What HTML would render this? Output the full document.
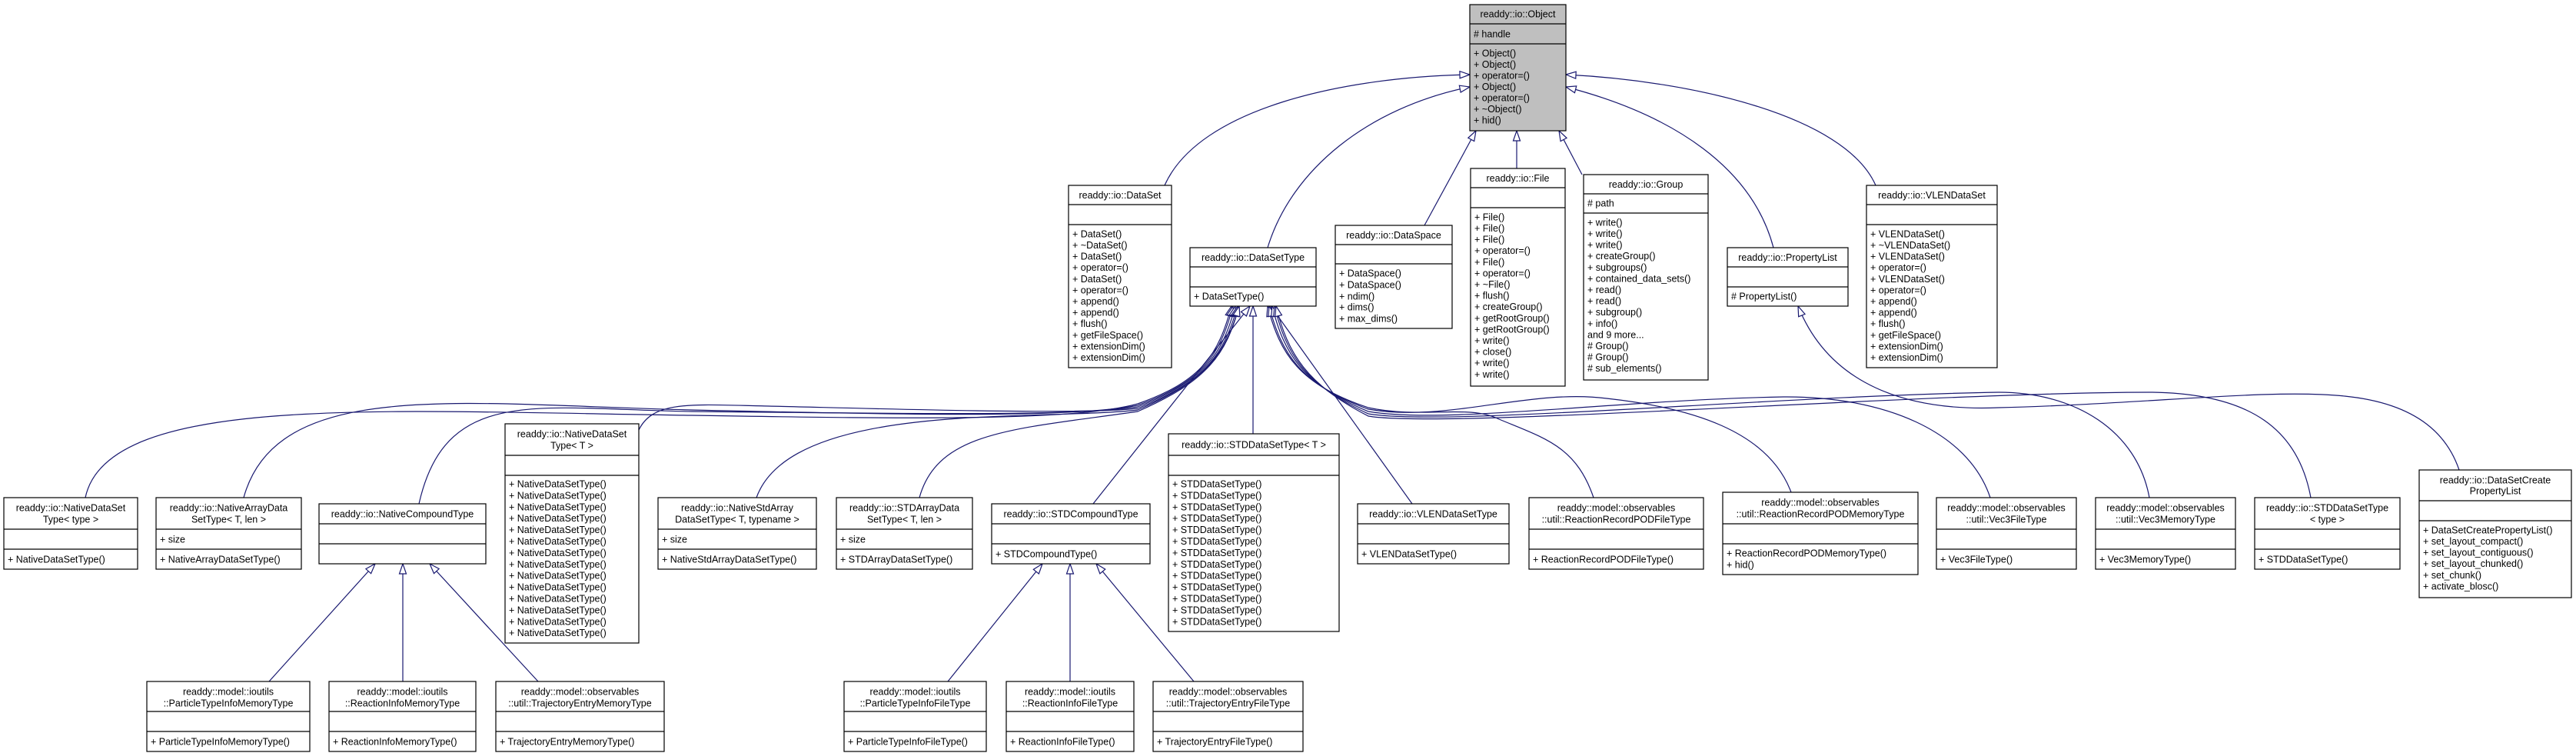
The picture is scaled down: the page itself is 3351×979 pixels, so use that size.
<!DOCTYPE html>
<html><head><meta charset="utf-8"><style>
html,body{margin:0;padding:0;background:#fff;width:3351px;height:979px;overflow:hidden}
svg{display:block}
text{font-family:"Liberation Sans",Arial,sans-serif;font-size:12.5px;fill:#000}
.c{text-anchor:middle}
.b{fill:#fff;stroke:#000;stroke-width:1.2}
.g{fill:#bfbfbf;stroke:#000;stroke-width:1.2}
.l{stroke:#000;stroke-width:1.2}
.e{fill:none;stroke:#191970;stroke-width:1.2}
</style></head><body>
<svg width="3351" height="979" viewBox="0 0 3351 979" xmlns="http://www.w3.org/2000/svg">
<defs>
<marker id="a" markerUnits="userSpaceOnUse" markerWidth="20" markerHeight="20" refX="1" refY="6" orient="auto" viewBox="0 0 20 12">
<path d="M1,6 L14,1.5 L14,10.5 Z" fill="#fff" stroke="#191970" stroke-width="1.2"/>
</marker>
</defs>

<g class="e" marker-start="url(#a)">
<path d="M1912,97 C1750,100 1560,140 1515,241"/>
<path d="M1912,113 C1780,140 1680,220 1649,322"/>
<path d="M1920,170 L1853,293"/>
<path d="M1973,170 L1973,219"/>
<path d="M2028,170 L2058,227"/>
<path d="M2037,113 C2180,150 2280,220 2307,322"/>
<path d="M2037,97 C2200,105 2400,150 2440,241"/>

<path d="M1602,398 C1585,460 1565,495 1480,525 C1400,547 1200,545 900,540 C500,535 140,510 111,647"/>
<path d="M1604,398 C1587,460 1567,495 1480,527 C1400,543 1200,540 900,533 C600,526 360,490 317,647"/>
<path d="M1607,398 C1590,460 1568,495 1480,529 C1400,541 1200,538 900,535 C700,532 580,500 545,655"/>
<path d="M1610,398 C1592,460 1570,495 1480,531 C1400,540 1100,530 1000,528 C900,526 850,520 831,559"/>
<path d="M1612,398 C1594,460 1570,495 1480,533 C1350,548 1030,520 984,647"/>
<path d="M1612,398 C1595,460 1572,495 1480,535 C1320,558 1220,560 1196,647"/>
<path d="M1626,398 L1422,655"/>
<path d="M1630,398 L1630,564"/>
<path d="M1653,398 L1837,655"/>
<path d="M1649,398 C1665,460 1690,500 1780,530 C1850,545 1910,525 1950,545 C2010,570 2050,580 2073,647"/>
<path d="M1651,398 C1667,460 1692,500 1780,532 C1880,550 1990,505 2090,518 C2200,530 2300,560 2330,640"/>
<path d="M1655,398 C1670,460 1695,500 1780,535 C1880,552 2100,520 2320,516 C2450,515 2560,560 2589,647"/>
<path d="M1658,398 C1673,460 1697,500 1780,538 C1880,555 2300,515 2600,510 C2700,510 2780,560 2796,647"/>
<path d="M1660,398 C1675,460 1700,500 1780,541 C1880,558 2500,510 2800,510 C2930,512 2990,560 3006,647"/>
<path d="M2339,398 C2380,500 2480,535 2600,530 C2800,525 2950,505 3050,515 C3150,525 3185,570 3199,611"/>

<path d="M488,733 L350,886"/>
<path d="M524,733 L524,886"/>
<path d="M559,733 L700,886"/>
<path d="M1356,733 L1233,886"/>
<path d="M1392,733 L1392,886"/>
<path d="M1426,733 L1553,886"/>
</g>

<rect class="g" x="1912" y="6" width="125" height="164"/>
<line class="l" x1="1912" y1="31" x2="2037" y2="31"/><line class="l" x1="1912" y1="57" x2="2037" y2="57"/>
<text class="c" x="1974.5" y="22.5">readdy::io::Object</text>
<text x="1917" y="48.5"># handle</text>
<text x="1917" y="73.5">+ Object()</text><text x="1917" y="88">+ Object()</text><text x="1917" y="102.5">+ operator=()</text><text x="1917" y="117">+ Object()</text><text x="1917" y="131.5">+ operator=()</text><text x="1917" y="146">+ ~Object()</text><text x="1917" y="160.5">+ hid()</text>

<rect class="b" x="1390" y="241" width="134" height="237"/>
<line class="l" x1="1390" y1="266" x2="1524" y2="266"/><line class="l" x1="1390" y1="292" x2="1524" y2="292"/>
<text class="c" x="1457" y="258">readdy::io::DataSet</text>
<text x="1395" y="308.5">+ DataSet()</text><text x="1395" y="323">+ ~DataSet()</text><text x="1395" y="337.5">+ DataSet()</text><text x="1395" y="352">+ operator=()</text><text x="1395" y="367">+ DataSet()</text><text x="1395" y="381.5">+ operator=()</text><text x="1395" y="396">+ append()</text><text x="1395" y="410.5">+ append()</text><text x="1395" y="425">+ flush()</text><text x="1395" y="440">+ getFileSpace()</text><text x="1395" y="454.5">+ extensionDim()</text><text x="1395" y="469">+ extensionDim()</text>

<rect class="b" x="1548" y="322" width="164" height="76"/>
<line class="l" x1="1548" y1="347" x2="1712" y2="347"/><line class="l" x1="1548" y1="373" x2="1712" y2="373"/>
<text class="c" x="1630" y="339">readdy::io::DataSetType</text>
<text x="1553" y="389.5">+ DataSetType()</text>

<rect class="b" x="1737" y="293" width="152" height="134"/>
<line class="l" x1="1737" y1="318" x2="1889" y2="318"/><line class="l" x1="1737" y1="343" x2="1889" y2="343"/>
<text class="c" x="1813" y="310">readdy::io::DataSpace</text>
<text x="1742" y="359.5">+ DataSpace()</text><text x="1742" y="374.5">+ DataSpace()</text><text x="1742" y="389.5">+ ndim()</text><text x="1742" y="403.5">+ dims()</text><text x="1742" y="418.5">+ max_dims()</text>

<rect class="b" x="1913" y="219" width="123" height="283"/>
<line class="l" x1="1913" y1="244" x2="2036" y2="244"/><line class="l" x1="1913" y1="270" x2="2036" y2="270"/>
<text class="c" x="1974.5" y="236">readdy::io::File</text>
<text x="1918" y="286.5">+ File()</text><text x="1918" y="301">+ File()</text><text x="1918" y="315.5">+ File()</text><text x="1918" y="330">+ operator=()</text><text x="1918" y="345">+ File()</text><text x="1918" y="359.5">+ operator=()</text><text x="1918" y="374">+ ~File()</text><text x="1918" y="388.5">+ flush()</text><text x="1918" y="403">+ createGroup()</text><text x="1918" y="418">+ getRootGroup()</text><text x="1918" y="432.5">+ getRootGroup()</text><text x="1918" y="447">+ write()</text><text x="1918" y="461.5">+ close()</text><text x="1918" y="476">+ write()</text><text x="1918" y="491">+ write()</text>

<rect class="b" x="2060" y="227" width="162" height="267"/>
<line class="l" x1="2060" y1="252" x2="2222" y2="252"/><line class="l" x1="2060" y1="277" x2="2222" y2="277"/>
<text class="c" x="2141" y="244">readdy::io::Group</text>
<text x="2065" y="268.5"># path</text>
<text x="2065" y="293.5">+ write()</text><text x="2065" y="308">+ write()</text><text x="2065" y="322.5">+ write()</text><text x="2065" y="337">+ createGroup()</text><text x="2065" y="352">+ subgroups()</text><text x="2065" y="366.5">+ contained_data_sets()</text><text x="2065" y="381">+ read()</text><text x="2065" y="395.5">+ read()</text><text x="2065" y="410">+ subgroup()</text><text x="2065" y="425">+ info()</text><text x="2065" y="439.5">and 9 more...</text><text x="2065" y="454">&#35; Group()</text><text x="2065" y="468.5">&#35; Group()</text><text x="2065" y="483">&#35; sub_elements()</text>

<rect class="b" x="2247" y="322" width="157" height="76"/>
<line class="l" x1="2247" y1="347" x2="2404" y2="347"/><line class="l" x1="2247" y1="373" x2="2404" y2="373"/>
<text class="c" x="2325.5" y="339">readdy::io::PropertyList</text>
<text x="2252" y="389.5"># PropertyList()</text>

<rect class="b" x="2428" y="241" width="170" height="237"/>
<line class="l" x1="2428" y1="266" x2="2598" y2="266"/><line class="l" x1="2428" y1="292" x2="2598" y2="292"/>
<text class="c" x="2513" y="258">readdy::io::VLENDataSet</text>
<text x="2433" y="308.5">+ VLENDataSet()</text><text x="2433" y="323">+ ~VLENDataSet()</text><text x="2433" y="337.5">+ VLENDataSet()</text><text x="2433" y="352">+ operator=()</text><text x="2433" y="367">+ VLENDataSet()</text><text x="2433" y="381.5">+ operator=()</text><text x="2433" y="396">+ append()</text><text x="2433" y="410.5">+ append()</text><text x="2433" y="425">+ flush()</text><text x="2433" y="440">+ getFileSpace()</text><text x="2433" y="454.5">+ extensionDim()</text><text x="2433" y="469">+ extensionDim()</text>

<rect class="b" x="5" y="647" width="174" height="93"/>
<line class="l" x1="5" y1="688" x2="179" y2="688"/><line class="l" x1="5" y1="714" x2="179" y2="714"/>
<text class="c" x="92" y="664.5">readdy::io::NativeDataSet</text><text class="c" x="92" y="679.5">Type&lt; type &gt;</text>
<text x="10" y="731.5">+ NativeDataSetType()</text>

<rect class="b" x="203" y="647" width="189" height="93"/>
<line class="l" x1="203" y1="688" x2="392" y2="688"/><line class="l" x1="203" y1="714" x2="392" y2="714"/>
<text class="c" x="297.5" y="664.5">readdy::io::NativeArrayData</text><text class="c" x="297.5" y="679.5">SetType&lt; T, len &gt;</text>
<text x="208" y="705.5">+ size</text><text x="208" y="731.5">+ NativeArrayDataSetType()</text>

<rect class="b" x="415" y="655" width="217" height="78"/>
<line class="l" x1="415" y1="681" x2="632" y2="681"/><line class="l" x1="415" y1="707" x2="632" y2="707"/>
<text class="c" x="523.5" y="672.5">readdy::io::NativeCompoundType</text>

<rect class="b" x="657" y="551" width="174" height="285"/>
<line class="l" x1="657" y1="592" x2="831" y2="592"/><line class="l" x1="657" y1="618" x2="831" y2="618"/>
<text class="c" x="744" y="568.5">readdy::io::NativeDataSet</text><text class="c" x="744" y="583.5">Type&lt; T &gt;</text>
<text x="662" y="633.5">+ NativeDataSetType()</text><text x="662" y="648.4">+ NativeDataSetType()</text><text x="662" y="663.3">+ NativeDataSetType()</text><text x="662" y="678.2">+ NativeDataSetType()</text><text x="662" y="693.1">+ NativeDataSetType()</text><text x="662" y="708">+ NativeDataSetType()</text><text x="662" y="722.9">+ NativeDataSetType()</text><text x="662" y="737.8">+ NativeDataSetType()</text><text x="662" y="752.7">+ NativeDataSetType()</text><text x="662" y="767.6">+ NativeDataSetType()</text><text x="662" y="782.5">+ NativeDataSetType()</text><text x="662" y="797.4">+ NativeDataSetType()</text><text x="662" y="812.3">+ NativeDataSetType()</text><text x="662" y="827.2">+ NativeDataSetType()</text>

<rect class="b" x="856" y="647" width="206" height="93"/>
<line class="l" x1="856" y1="688" x2="1062" y2="688"/><line class="l" x1="856" y1="714" x2="1062" y2="714"/>
<text class="c" x="959" y="664.5">readdy::io::NativeStdArray</text><text class="c" x="959" y="679.5">DataSetType&lt; T, typename &gt;</text>
<text x="861" y="705.5">+ size</text><text x="861" y="731.5">+ NativeStdArrayDataSetType()</text>

<rect class="b" x="1088" y="647" width="177" height="93"/>
<line class="l" x1="1088" y1="688" x2="1265" y2="688"/><line class="l" x1="1088" y1="714" x2="1265" y2="714"/>
<text class="c" x="1176.5" y="664.5">readdy::io::STDArrayData</text><text class="c" x="1176.5" y="679.5">SetType&lt; T, len &gt;</text>
<text x="1093" y="705.5">+ size</text><text x="1093" y="731.5">+ STDArrayDataSetType()</text>

<rect class="b" x="1290" y="655" width="206" height="78"/>
<line class="l" x1="1290" y1="681" x2="1496" y2="681"/><line class="l" x1="1290" y1="707" x2="1496" y2="707"/>
<text class="c" x="1393" y="672.5">readdy::io::STDCompoundType</text>
<text x="1295" y="724.5">+ STDCompoundType()</text>

<rect class="b" x="1520" y="564" width="222" height="257"/>
<line class="l" x1="1520" y1="592" x2="1742" y2="592"/><line class="l" x1="1520" y1="618" x2="1742" y2="618"/>
<text class="c" x="1631" y="582.5">readdy::io::STDDataSetType&lt; T &gt;</text>
<text x="1525" y="633.5">+ STDDataSetType()</text><text x="1525" y="648.4">+ STDDataSetType()</text><text x="1525" y="663.3">+ STDDataSetType()</text><text x="1525" y="678.2">+ STDDataSetType()</text><text x="1525" y="693.1">+ STDDataSetType()</text><text x="1525" y="708">+ STDDataSetType()</text><text x="1525" y="722.9">+ STDDataSetType()</text><text x="1525" y="737.8">+ STDDataSetType()</text><text x="1525" y="752.7">+ STDDataSetType()</text><text x="1525" y="767.6">+ STDDataSetType()</text><text x="1525" y="782.5">+ STDDataSetType()</text><text x="1525" y="797.4">+ STDDataSetType()</text><text x="1525" y="812.3">+ STDDataSetType()</text>

<rect class="b" x="1766" y="655" width="197" height="78"/>
<line class="l" x1="1766" y1="681" x2="1963" y2="681"/><line class="l" x1="1766" y1="707" x2="1963" y2="707"/>
<text class="c" x="1864.5" y="672.5">readdy::io::VLENDataSetType</text>
<text x="1771" y="724.5">+ VLENDataSetType()</text>

<rect class="b" x="1989" y="647" width="227" height="93"/>
<line class="l" x1="1989" y1="688" x2="2216" y2="688"/><line class="l" x1="1989" y1="714" x2="2216" y2="714"/>
<text class="c" x="2102.5" y="664.5">readdy::model::observables</text><text class="c" x="2102.5" y="679.5">::util::ReactionRecordPODFileType</text>
<text x="1994" y="731.5">+ ReactionRecordPODFileType()</text>

<rect class="b" x="2241" y="640" width="254" height="107"/>
<line class="l" x1="2241" y1="681" x2="2495" y2="681"/><line class="l" x1="2241" y1="707" x2="2495" y2="707"/>
<text class="c" x="2368" y="657.5">readdy::model::observables</text><text class="c" x="2368" y="672.5">::util::ReactionRecordPODMemoryType</text>
<text x="2246" y="723.5">+ ReactionRecordPODMemoryType()</text><text x="2246" y="738.5">+ hid()</text>

<rect class="b" x="2519" y="647" width="182" height="93"/>
<line class="l" x1="2519" y1="688" x2="2701" y2="688"/><line class="l" x1="2519" y1="714" x2="2701" y2="714"/>
<text class="c" x="2610" y="664.5">readdy::model::observables</text><text class="c" x="2610" y="679.5">::util::Vec3FileType</text>
<text x="2524" y="731.5">+ Vec3FileType()</text>

<rect class="b" x="2726" y="647" width="182" height="93"/>
<line class="l" x1="2726" y1="688" x2="2908" y2="688"/><line class="l" x1="2726" y1="714" x2="2908" y2="714"/>
<text class="c" x="2817" y="664.5">readdy::model::observables</text><text class="c" x="2817" y="679.5">::util::Vec3MemoryType</text>
<text x="2731" y="731.5">+ Vec3MemoryType()</text>

<rect class="b" x="2933" y="647" width="189" height="93"/>
<line class="l" x1="2933" y1="688" x2="3122" y2="688"/><line class="l" x1="2933" y1="714" x2="3122" y2="714"/>
<text class="c" x="3027.5" y="664.5">readdy::io::STDDataSetType</text><text class="c" x="3027.5" y="679.5">&lt; type &gt;</text>
<text x="2938" y="731.5">+ STDDataSetType()</text>

<rect class="b" x="3147" y="611" width="198" height="166"/>
<line class="l" x1="3147" y1="651" x2="3345" y2="651"/><line class="l" x1="3147" y1="677" x2="3345" y2="677"/>
<text class="c" x="3246" y="628.5">readdy::io::DataSetCreate</text><text class="c" x="3246" y="642.5">PropertyList</text>
<text x="3152" y="693.5">+ DataSetCreatePropertyList()</text><text x="3152" y="708">+ set_layout_compact()</text><text x="3152" y="722.5">+ set_layout_contiguous()</text><text x="3152" y="737">+ set_layout_chunked()</text><text x="3152" y="752">+ set_chunk()</text><text x="3152" y="766.5">+ activate_blosc()</text>

<rect class="b" x="191" y="886" width="212" height="91"/>
<line class="l" x1="191" y1="925" x2="403" y2="925"/><line class="l" x1="191" y1="951" x2="403" y2="951"/>
<text class="c" x="297" y="903.5">readdy::model::ioutils</text><text class="c" x="297" y="918.5">::ParticleTypeInfoMemoryType</text>
<text x="196" y="968.5">+ ParticleTypeInfoMemoryType()</text>

<rect class="b" x="428" y="886" width="191" height="91"/>
<line class="l" x1="428" y1="925" x2="619" y2="925"/><line class="l" x1="428" y1="951" x2="619" y2="951"/>
<text class="c" x="523.5" y="903.5">readdy::model::ioutils</text><text class="c" x="523.5" y="918.5">::ReactionInfoMemoryType</text>
<text x="433" y="968.5">+ ReactionInfoMemoryType()</text>

<rect class="b" x="645" y="886" width="219" height="91"/>
<line class="l" x1="645" y1="925" x2="864" y2="925"/><line class="l" x1="645" y1="951" x2="864" y2="951"/>
<text class="c" x="754.5" y="903.5">readdy::model::observables</text><text class="c" x="754.5" y="918.5">::util::TrajectoryEntryMemoryType</text>
<text x="650" y="968.5">+ TrajectoryEntryMemoryType()</text>

<rect class="b" x="1098" y="886" width="185" height="91"/>
<line class="l" x1="1098" y1="925" x2="1283" y2="925"/><line class="l" x1="1098" y1="951" x2="1283" y2="951"/>
<text class="c" x="1190.5" y="903.5">readdy::model::ioutils</text><text class="c" x="1190.5" y="918.5">::ParticleTypeInfoFileType</text>
<text x="1103" y="968.5">+ ParticleTypeInfoFileType()</text>

<rect class="b" x="1309" y="886" width="166" height="91"/>
<line class="l" x1="1309" y1="925" x2="1475" y2="925"/><line class="l" x1="1309" y1="951" x2="1475" y2="951"/>
<text class="c" x="1392" y="903.5">readdy::model::ioutils</text><text class="c" x="1392" y="918.5">::ReactionInfoFileType</text>
<text x="1314" y="968.5">+ ReactionInfoFileType()</text>

<rect class="b" x="1500" y="886" width="195" height="91"/>
<line class="l" x1="1500" y1="925" x2="1695" y2="925"/><line class="l" x1="1500" y1="951" x2="1695" y2="951"/>
<text class="c" x="1597.5" y="903.5">readdy::model::observables</text><text class="c" x="1597.5" y="918.5">::util::TrajectoryEntryFileType</text>
<text x="1505" y="968.5">+ TrajectoryEntryFileType()</text>
</svg>
</body></html>
